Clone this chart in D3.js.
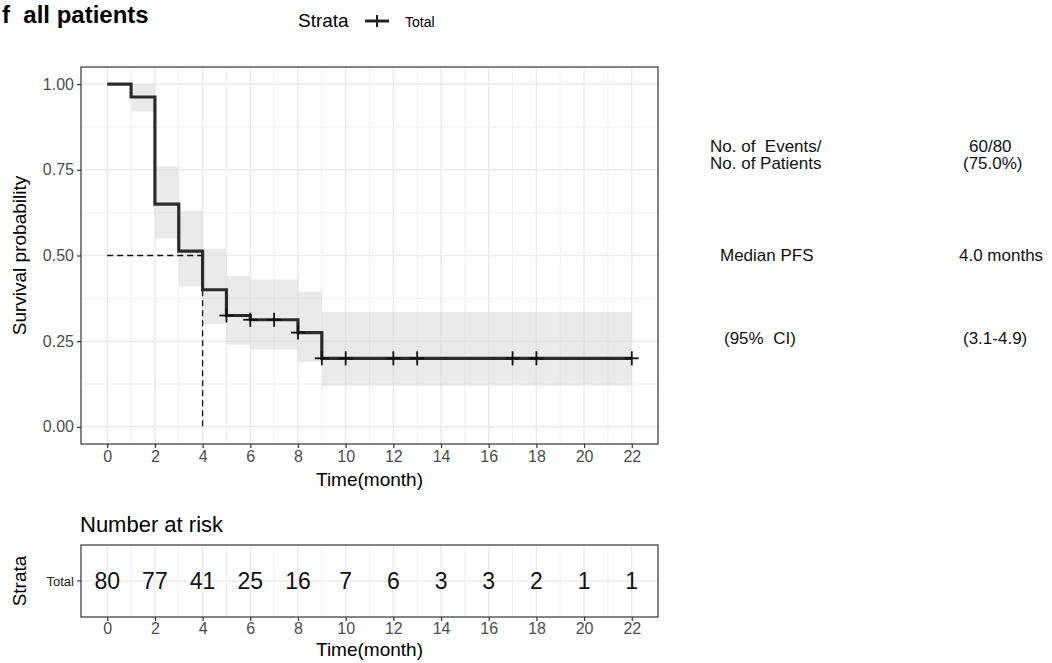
<!DOCTYPE html>
<html>
<head>
<meta charset="utf-8">
<script src="https://cdn.jsdelivr.net/npm/d3@7"></script>
<style>
  body { margin: 0; background: #fff; }
  svg { display: block; }
  .narrow { font-family: "Liberation Sans Narrow", "Arial Narrow", "Liberation Sans", sans-serif; }
  .arial { font-family: "Liberation Sans", Arial, sans-serif; }
</style>
</head>
<body>
<script>
const WIDTH = 1052;
const HEIGHT = 663;

// KM step values (time, survival)
const stepTimes = [0, 1, 2, 3, 4, 5, 6, 8, 9, 22];
const stepSurv = [1.0, 0.9625, 0.65, 0.5125, 0.40, 0.325, 0.3125, 0.275, 0.20, 0.20];
const ciLower = [1.0, 0.92, 0.55, 0.41, 0.30, 0.24, 0.225, 0.19, 0.12, 0.12];
const ciUpper = [1.0, 1.0, 0.76, 0.63, 0.52, 0.44, 0.43, 0.395, 0.335, 0.335];

// censoring marks
const censorTimes = [5, 6, 7, 8, 9, 10, 12, 13, 17, 18, 22];
const censorSurv = [0.325, 0.3125, 0.3125, 0.275, 0.20, 0.20, 0.20, 0.20, 0.20, 0.20, 0.20];

const xTicks = [0, 2, 4, 6, 8, 10, 12, 14, 16, 18, 20, 22];
const yTicks = [0, 0.25, 0.5, 0.75, 1.0];
const riskCounts = [80, 77, 41, 25, 16, 7, 6, 3, 3, 2, 1, 1];

const medianTime = 4;

const summaryLabels = [["No. of\u00a0\u00a0Events/", "No. of Patients"], ["Median PFS"], ["(95%\u00a0\u00a0CI)"]];
const summaryValues = [["60/80", "(75.0%)"], ["4.0 months"], ["(3.1-4.9)"]];

const PANEL = { left: 81, right: 658, top: 67, bottom: 444 };
const RISK = { left: 81, right: 658, top: 545, bottom: 617 };
const GRID_COLOR = "#ebebeb";
const AXIS_COLOR = "#333333";
const TEXT_COLOR = "#4d4d4d";

const svg = d3.select("body").append("svg")
    .attr("width", WIDTH)
    .attr("height", HEIGHT);

const x = d3.scaleLinear().domain([-1.1, 23.1]).range([PANEL.left, PANEL.right]);
const y = d3.scaleLinear().domain([-0.05, 1.05]).range([PANEL.bottom, PANEL.top]);

// title and legend
svg.append("text").attr("class", "arial")
    .attr("x", 2).attr("y", 23)
    .attr("font-size", 24).attr("font-weight", "bold")
    .text("f\u00a0\u00a0all patients");

svg.append("text").attr("class", "narrow")
    .attr("x", 298).attr("y", 27).attr("font-size", 19)
    .text("Strata");
svg.append("line").attr("x1", 365).attr("x2", 389).attr("y1", 21).attr("y2", 21)
    .attr("stroke", "#222").attr("stroke-width", 3);
svg.append("line").attr("x1", 377).attr("x2", 377).attr("y1", 15).attr("y2", 27)
    .attr("stroke", "#222").attr("stroke-width", 2);
svg.append("text").attr("class", "narrow")
    .attr("x", 405).attr("y", 27).attr("font-size", 14)
    .text("Total");

// ---- main panel ----
const grid = svg.append("g");
const minorX = d3.range(1, 23, 2);
const minorY = [0.125, 0.375, 0.625, 0.875];

grid.selectAll(".mx").data(minorX).enter().append("line")
    .attr("x1", d => x(d)).attr("x2", d => x(d))
    .attr("y1", PANEL.top).attr("y2", PANEL.bottom)
    .attr("stroke", GRID_COLOR).attr("stroke-width", 0.8);
grid.selectAll(".my").data(minorY).enter().append("line")
    .attr("x1", PANEL.left).attr("x2", PANEL.right)
    .attr("y1", d => y(d)).attr("y2", d => y(d))
    .attr("stroke", GRID_COLOR).attr("stroke-width", 0.8);
grid.selectAll(".Mx").data(xTicks).enter().append("line")
    .attr("x1", d => x(d)).attr("x2", d => x(d))
    .attr("y1", PANEL.top).attr("y2", PANEL.bottom)
    .attr("stroke", GRID_COLOR).attr("stroke-width", 1.5);
grid.selectAll(".My").data(yTicks).enter().append("line")
    .attr("x1", PANEL.left).attr("x2", PANEL.right)
    .attr("y1", d => y(d)).attr("y2", d => y(d))
    .attr("stroke", GRID_COLOR).attr("stroke-width", 1.5);

// confidence band as steps
const bandData = stepTimes.slice(0, -1).map((t, i) => ({
    x0: t, x1: stepTimes[i + 1], lo: ciLower[i], hi: ciUpper[i]
}));
svg.append("g").selectAll("rect").data(bandData).enter().append("rect")
    .attr("x", d => x(d.x0))
    .attr("width", d => x(d.x1) - x(d.x0))
    .attr("y", d => y(d.hi))
    .attr("height", d => y(d.lo) - y(d.hi))
    .attr("fill", "#d9d9d9").attr("fill-opacity", 0.55);

// median lines
svg.append("path")
    .attr("d", d3.line()([[x(0), y(0.5)], [x(medianTime), y(0.5)], [x(medianTime), y(0)]]))
    .attr("fill", "none").attr("stroke", "#111").attr("stroke-width", 1.3)
    .attr("stroke-dasharray", "6,4");

// survival curve
const survLine = d3.line()
    .x(d => x(d[0])).y(d => y(d[1]))
    .curve(d3.curveStepAfter);
svg.append("path")
    .datum(stepTimes.map((t, i) => [t, stepSurv[i]]))
    .attr("d", survLine)
    .attr("fill", "none").attr("stroke", "#2b2b2b").attr("stroke-width", 3.2);

// censor marks
const cens = svg.append("g").selectAll("g")
    .data(censorTimes.map((t, i) => [t, censorSurv[i]]))
    .enter().append("g")
    .attr("transform", d => `translate(${x(d[0])},${y(d[1])})`);
cens.append("line").attr("x1", -7).attr("x2", 7).attr("stroke", "#111").attr("stroke-width", 1.8);
cens.append("line").attr("y1", -7).attr("y2", 7).attr("stroke", "#111").attr("stroke-width", 1.8);

// panel border
svg.append("rect")
    .attr("x", PANEL.left).attr("y", PANEL.top)
    .attr("width", PANEL.right - PANEL.left).attr("height", PANEL.bottom - PANEL.top)
    .attr("fill", "none").attr("stroke", AXIS_COLOR).attr("stroke-width", 1.2);

// axes
const xAxis = svg.append("g").attr("class", "narrow")
    .attr("transform", `translate(0,${PANEL.bottom})`)
    .call(d3.axisBottom(x).tickValues(xTicks).tickSize(4).tickPadding(3));
const yAxis = svg.append("g").attr("class", "narrow")
    .attr("transform", `translate(${PANEL.left},0)`)
    .call(d3.axisLeft(y).tickValues(yTicks).tickFormat(d3.format(".2f")).tickSize(4).tickPadding(3));
[xAxis, yAxis].forEach(a => {
    a.select(".domain").remove();
    a.selectAll(".tick line").attr("stroke", AXIS_COLOR).attr("stroke-width", 1.2);
    a.selectAll(".tick text").attr("fill", TEXT_COLOR).attr("font-size", 16)
        .attr("font-family", null);
});

svg.append("text").attr("class", "narrow")
    .attr("x", (x(0) + x(22)) / 2).attr("y", 486)
    .attr("text-anchor", "middle").attr("font-size", 19)
    .text("Time(month)");
svg.append("text").attr("class", "narrow")
    .attr("transform", `translate(26,${(PANEL.top + PANEL.bottom) / 2}) rotate(-90)`)
    .attr("text-anchor", "middle").attr("font-size", 19)
    .text("Survival probability");

// ---- risk table ----
const riskY = (RISK.top + RISK.bottom) / 2;
svg.append("text").attr("class", "narrow")
    .attr("x", 80).attr("y", 532).attr("font-size", 22)
    .text("Number at risk");

const rgrid = svg.append("g");
rgrid.selectAll(".mx").data(minorX).enter().append("line")
    .attr("x1", d => x(d)).attr("x2", d => x(d))
    .attr("y1", RISK.top).attr("y2", RISK.bottom)
    .attr("stroke", GRID_COLOR).attr("stroke-width", 0.8);
rgrid.selectAll(".Mx").data(xTicks).enter().append("line")
    .attr("x1", d => x(d)).attr("x2", d => x(d))
    .attr("y1", RISK.top).attr("y2", RISK.bottom)
    .attr("stroke", GRID_COLOR).attr("stroke-width", 1.5);
rgrid.append("line")
    .attr("x1", RISK.left).attr("x2", RISK.right)
    .attr("y1", riskY).attr("y2", riskY)
    .attr("stroke", GRID_COLOR).attr("stroke-width", 1.5);

svg.append("g").attr("class", "narrow").selectAll("text")
    .data(riskCounts).enter().append("text")
    .attr("x", (d, i) => x(xTicks[i]))
    .attr("y", riskY + 8)
    .attr("text-anchor", "middle").attr("font-size", 23)
    .attr("fill", "#111")
    .text(d => d);

svg.append("rect")
    .attr("x", RISK.left).attr("y", RISK.top)
    .attr("width", RISK.right - RISK.left).attr("height", RISK.bottom - RISK.top)
    .attr("fill", "none").attr("stroke", AXIS_COLOR).attr("stroke-width", 1.2);

const rxAxis = svg.append("g").attr("class", "narrow")
    .attr("transform", `translate(0,${RISK.bottom})`)
    .call(d3.axisBottom(x).tickValues(xTicks).tickSize(4).tickPadding(2));
rxAxis.select(".domain").remove();
rxAxis.selectAll(".tick line").attr("stroke", AXIS_COLOR).attr("stroke-width", 1.2);
rxAxis.selectAll(".tick text").attr("fill", TEXT_COLOR).attr("font-size", 16).attr("font-family", null);

svg.append("line").attr("x1", RISK.left - 4).attr("x2", RISK.left)
    .attr("y1", riskY).attr("y2", riskY)
    .attr("stroke", AXIS_COLOR).attr("stroke-width", 1.2);
svg.append("text").attr("class", "narrow")
    .attr("x", RISK.left - 7).attr("y", riskY + 5)
    .attr("text-anchor", "end").attr("font-size", 13).attr("fill", "#222")
    .text("Total");
svg.append("text").attr("class", "narrow")
    .attr("x", (x(0) + x(22)) / 2).attr("y", 656)
    .attr("text-anchor", "middle").attr("font-size", 19)
    .text("Time(month)");
svg.append("text").attr("class", "narrow")
    .attr("transform", `translate(26,${riskY}) rotate(-90)`)
    .attr("text-anchor", "middle").attr("font-size", 19)
    .text("Strata");

// ---- summary text on the right ----
// baselines of the first line of each block
const blockBase = [152, 261, 344];
const LINE_GAP = 17;
const labelX = [710, 720, 724];
const valueX = [[969, 963], [959], [963]];
const summary = svg.append("g").attr("class", "arial").attr("font-size", 17).attr("fill", "#111");
summaryLabels.forEach((lines, i) => {
    lines.forEach((s, j) => {
        summary.append("text").attr("x", labelX[i]).attr("y", blockBase[i] + j * LINE_GAP).text(s);
    });
});
summaryValues.forEach((lines, i) => {
    lines.forEach((s, j) => {
        summary.append("text").attr("x", valueX[i][j]).attr("y", blockBase[i] + j * LINE_GAP).text(s);
    });
});
</script>
</body>
</html>
